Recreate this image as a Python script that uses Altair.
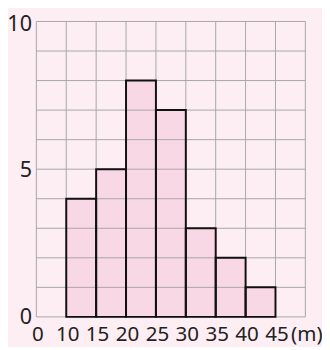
import altair as alt
import pandas as pd

# data
lower = [10, 15, 20, 25, 30, 35, 40]
upper = [15, 20, 25, 30, 35, 40, 45]
counts = [4, 5, 8, 7, 3, 2, 1]

x_ticks = [5, 10, 15, 20, 25, 30, 35, 40, 45, 50]
x_labels = ["0", "10", "15", "20", "25", "30", "35", "40", "45", "(m)"]
y_grid = [0, 1, 2, 3, 4, 5, 6, 7, 8, 9, 10]
y_ticks = [0, 5, 10]

bars = pd.DataFrame({"lo": lower, "hi": upper, "n": counts, "z": [0] * len(counts)})
vgrid_df = pd.DataFrame({"v": x_ticks})
hgrid_df = pd.DataFrame({"h": y_grid})

label_expr = " : ".join(
    f"datum.value == {v} ? '{lab}'" for v, lab in zip(x_ticks, x_labels)
) + " : ''"

xs = alt.Scale(domain=[x_ticks[0], x_ticks[-1]], nice=False, zero=False)
ys = alt.Scale(domain=[0, 10], nice=False)

x_axis = alt.Axis(values=x_ticks, labelExpr=label_expr, title=None, domain=False,
                  ticks=False, grid=False, labelPadding=7, labelFontSize=21,
                  labelAngle=0, labelFlush=False, labelOverlap=False,
                  labelOffset={"condition": {"test": "datum.value == 50", "value": 1}, "value": 1})
y_axis = alt.Axis(values=y_ticks, title=None, domain=False, ticks=False, grid=False,
                  labelPadding=5, labelFontSize=22, labelFlush=False,
                  labelOffset={"condition": {"test": "datum.value == 10", "value": 2}, "value": 0})

fill = alt.Chart(bars).mark_rect(fill="#f9d8e6").encode(
    x=alt.X("lo:Q", scale=xs, axis=x_axis),
    x2="hi:Q",
    y=alt.Y("n:Q", scale=ys, axis=y_axis),
    y2="z:Q",
)

vgrid = alt.Chart(vgrid_df).mark_rule(color="#a6a6a6", strokeWidth=1).encode(
    x=alt.X("v:Q", scale=xs, axis=x_axis)
)
hgrid = alt.Chart(hgrid_df).mark_rule(color="#a6a6a6", strokeWidth=1).encode(
    y=alt.Y("h:Q", scale=ys, axis=y_axis)
)

outline = alt.Chart(bars).mark_rect(fillOpacity=0, stroke="#111111", strokeWidth=2).encode(
    x=alt.X("lo:Q", scale=xs, axis=x_axis),
    x2="hi:Q",
    y=alt.Y("n:Q", scale=ys, axis=y_axis),
    y2="z:Q",
)

chart = alt.layer(fill, hgrid, vgrid, outline).properties(
    width=275,
    height=302,
    autosize=alt.AutoSizeParams(type="none"),
    padding={"left": 29, "top": 10, "right": 17, "bottom": 27},
    background="#fdeef4",
).configure_view(stroke=None).configure_axis(
    labelFont="Noto Sans", labelColor="#222222"
)

chart.save("out.html", embed_options={"renderer": "svg", "actions": False})
